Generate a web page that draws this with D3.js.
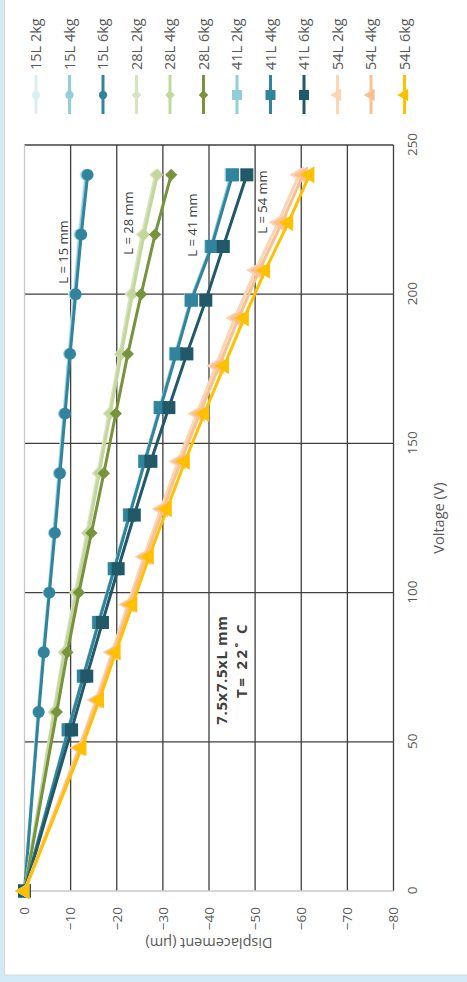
<!DOCTYPE html>
<html>
<head>
<meta charset="utf-8">
<script src="https://cdn.jsdelivr.net/npm/d3@7"></script>
<style>
  html, body { margin: 0; padding: 0; background: #d4eaf6; }
  svg { display: block; }
  text { font-family: "Open Sans", sans-serif; }
</style>
</head>
<body>
<script>
// series names, in drawing order
const seriesNames = [
  '15L 2kg', '15L 4kg', '15L 6kg',
  '28L 2kg', '28L 4kg', '28L 6kg',
  '41L 2kg', '41L 4kg', '41L 6kg',
  '54L 2kg', '54L 4kg', '54L 6kg'
];

// voltage steps per stack length (V)
const volt15 = [0, 60, 80, 100, 120, 140, 160, 180, 200, 220, 240];
const volt28 = [0, 60, 80, 100, 120, 140, 160, 180, 200, 220, 240];
const volt41 = [0, 54, 72, 90, 108, 126, 144, 162, 180, 198, 216, 240];
const volt54 = [0, 48, 64, 80, 96, 112, 128, 144, 160, 176, 192, 208, 224, 240];

// displacement (um)
const d15L2kg = [0, -2.9, -4.0, -5.2, -6.3, -7.4, -8.5, -9.6, -10.7, -11.8, -13.2];
const d15L4kg = [0, -3.0, -4.1, -5.3, -6.4, -7.5, -8.6, -9.7, -10.9, -12.0, -13.4];
const d15L6kg = [0, -3.1, -4.2, -5.4, -6.6, -7.7, -8.8, -9.9, -11.1, -12.3, -13.7];

const d28L2kg = [0, -6.3, -8.5, -11.0, -13.5, -15.9, -18.3, -20.7, -23.0, -25.5, -28.4];
const d28L4kg = [0, -6.5, -8.7, -11.3, -13.8, -16.2, -18.6, -21.0, -23.4, -25.9, -28.8];
const d28L6kg = [0, -7.0, -9.3, -11.8, -14.5, -17.2, -19.8, -22.4, -25.3, -28.3, -31.8];

const d41L2kg = [0, -9.4, -12.7, -16.0, -19.4, -22.7, -26.0, -29.3, -32.7, -36.0, -40.4, -44.8];
const d41L4kg = [0, -9.5, -12.8, -16.1, -19.5, -22.8, -26.1, -29.5, -32.9, -36.2, -40.6, -45.1];
const d41L6kg = [0, -10.2, -13.5, -16.9, -20.3, -23.8, -27.4, -31.3, -35.2, -39.3, -43.1, -48.2];

const d54L2kg = [0, -11.8, -15.5, -19.0, -22.4, -25.9, -29.6, -33.3, -37.4, -41.5, -45.6, -50.1, -55.0, -59.5];
const d54L4kg = [0, -12.0, -15.8, -19.3, -22.8, -26.3, -30.1, -33.9, -38.0, -42.2, -46.4, -50.9, -55.8, -60.4];
const d54L6kg = [0, -12.4, -16.2, -19.8, -23.4, -27.0, -30.9, -34.8, -39.0, -43.3, -47.6, -52.2, -57.2, -61.8];

// axis ticks
const voltTicks = [0, 50, 100, 150, 200, 250];
const dispTicks = [0, -10, -20, -30, -40, -50, -60, -70, -80];

// annotations
const lengthLabels = ['L = 15 mm', 'L = 28 mm', 'L = 41 mm', 'L = 54 mm'];
const noteLines = ['7.5x7.5xL mm', 'T= 22\u02DA C'];

// styles
const colors = [
  '#daeef3', '#92cddc', '#31849b',
  '#d7e4bd', '#c3d69b', '#77933c',
  '#92cddc', '#31849b', '#215968',
  '#fcd5b5', '#fac090', '#ffc000'
];

const volts  = [volt15, volt15, volt15, volt28, volt28, volt28, volt41, volt41, volt41, volt54, volt54, volt54];
const values = [d15L2kg, d15L4kg, d15L6kg, d28L2kg, d28L4kg, d28L6kg, d41L2kg, d41L4kg, d41L6kg, d54L2kg, d54L4kg, d54L6kg];

// marker shapes per group
const shapeOf = (i) => ['circle', 'diamond', 'square', 'triangle'][Math.floor(i / 3)];

const series = seriesNames.map((name, i) => ({
  name,
  color: colors[i],
  shape: shapeOf(i),
  points: volts[i].map((v, j) => ({ v, d: values[i][j] }))
}));

const width  = 467;
const height = 982;

const svg = d3.select('body')
  .append('svg')
    .attr('width', width)
    .attr('height', height);

// chart area
svg.append('rect')
  .attr('x', 4.5)
  .attr('y', -2)
  .attr('width', width)
  .attr('height', 977)
  .attr('fill', '#fff')
  .attr('stroke', '#d9d9d9');

// chart is laid out landscape, then turned a quarter to the left
const W = height;
const g = svg.append('g')
  .attr('transform', `translate(0,${W}) rotate(-90)`);

const x = d3.scaleLinear().domain([0, 250]).range([91, 837]);
const y = d3.scaleLinear().domain([0, -80]).range([24.5, 393.5]);

// gridlines
g.append('g')
  .selectAll('line')
  .data(voltTicks.filter((v) => v !== 0))
  .join('line')
    .attr('x1', (d) => x(d))
    .attr('x2', (d) => x(d))
    .attr('y1', y(0))
    .attr('y2', y(-80))
    .attr('stroke', '#3f3f3f')
    .attr('stroke-width', 1.3);

g.append('g')
  .selectAll('line')
  .data(dispTicks.filter((d) => d !== 0))
  .join('line')
    .attr('x1', x(0))
    .attr('x2', x(250))
    .attr('y1', (d) => y(d))
    .attr('y2', (d) => y(d))
    .attr('stroke', '#3f3f3f')
    .attr('stroke-width', 1.3);

// axis lines
g.append('line')
  .attr('x1', x(0)).attr('x2', x(250))
  .attr('y1', y(0)).attr('y2', y(0))
  .attr('stroke', '#c8c8c8').attr('stroke-width', 1.3);
g.append('line')
  .attr('x1', x(0)).attr('x2', x(0))
  .attr('y1', y(0)).attr('y2', y(-80))
  .attr('stroke', '#c8c8c8').attr('stroke-width', 1.3);

// axes labels
g.append('g')
  .attr('transform', `translate(0,${y(-80)})`)
  .call(d3.axisBottom(x).tickValues(voltTicks).tickSize(0).tickPadding(14))
  .call((a) => a.select('.domain').remove())
  .call((a) => a.selectAll('text')
    .attr('fill', '#595959')
    .style('font-size', '13.5px')
    .style('font-family', '"Open Sans", sans-serif'));

g.append('g')
  .attr('transform', `translate(${x(0)},0)`)
  .call(d3.axisLeft(y).tickValues(dispTicks).tickSize(0).tickPadding(16))
  .call((a) => a.select('.domain').remove())
  .call((a) => a.selectAll('text')
    .attr('fill', '#595959')
    .style('font-size', '13.5px')
    .style('font-family', '"Open Sans", sans-serif'));

// axis titles
g.append('text')
  .attr('x', (x(0) + x(250)) / 2)
  .attr('y', 439)
  .attr('dy', '0.35em')
  .attr('text-anchor', 'middle')
  .attr('fill', '#595959')
  .style('font-size', '14.5px')
  .text('Voltage (V)');

g.append('text')
  .attr('transform', `translate(39,${(y(0) + y(-80)) / 2}) rotate(-90)`)
  .attr('dy', '0.35em')
  .attr('text-anchor', 'middle')
  .attr('fill', '#595959')
  .style('font-size', '14.5px')
  .text('Displacement (\u00B5m)');

// marker path: plot size and legend size per shape
const markerSize = {
  circle:   [110, 55],
  diamond:  [75, 45],
  square:   [170, 100],
  triangle: [120, 70]
};
const markerPath = (shape, inLegend) => {
  const size = markerSize[shape][inLegend ? 1 : 0];
  const type = shape === 'circle' ? d3.symbolCircle
    : shape === 'triangle' ? d3.symbolTriangle
    : d3.symbolSquare;
  return d3.symbol(type, size)();
};
const markerRotate = (shape) => (shape === 'diamond' ? ' rotate(45)' : '');

const line = d3.line()
  .x((d) => x(d.v))
  .y((d) => y(d.d));

// series
const sg = g.append('g')
  .selectAll('g')
  .data(series)
  .join('g');

sg.append('path')
  .attr('d', (s) => line(s.points))
  .attr('fill', 'none')
  .attr('stroke', (s) => s.color)
  .attr('stroke-width', 3)
  .attr('stroke-linejoin', 'round');

sg.selectAll('path.mark')
  .data((s) => s.points.map((p) => ({ ...p, s })))
  .join('path')
    .attr('class', 'mark')
    .attr('d', (p) => markerPath(p.s.shape, false))
    .attr('transform', (p) => `translate(${x(p.v)},${y(p.d)})${markerRotate(p.s.shape)}`)
    .attr('fill', (p) => p.s.color);

// length labels
const lengthPos = [[730, 63], [759, 128], [757, 192], [780, 262]];
g.append('g')
  .selectAll('text')
  .data(lengthLabels)
  .join('text')
    .attr('x', (d, i) => lengthPos[i][0])
    .attr('y', (d, i) => lengthPos[i][1])
    .attr('dy', '0.35em')
    .attr('text-anchor', 'middle')
    .attr('fill', '#404040')
    .style('font-size', '13px')
    .text((d) => d);

// sample note
const notePos = [[312, 222], [322, 242]];
const noteSpacing = [0.6, 2.4];
g.append('g')
  .selectAll('text')
  .data(noteLines)
  .join('text')
    .attr('x', (d, i) => notePos[i][0])
    .attr('y', (d, i) => notePos[i][1])
    .attr('dy', '0.35em')
    .attr('text-anchor', 'middle')
    .attr('fill', '#404040')
    .style('font-size', '15px')
    .style('font-weight', 'bold')
    .style('letter-spacing', (d, i) => `${noteSpacing[i]}px`)
    .text((d) => d);

// legend
const legend = g.append('g')
  .selectAll('g')
  .data(series)
  .join('g')
    .attr('transform', (s, i) => `translate(0,${36 + i * 33.5})`);

legend.append('line')
  .attr('x1', 868)
  .attr('x2', 907)
  .attr('stroke', (s) => s.color)
  .attr('stroke-width', 3);

legend.append('path')
  .attr('d', (s) => markerPath(s.shape, true))
  .attr('transform', (s) => `translate(887,0)${markerRotate(s.shape)}`)
  .attr('fill', (s) => s.color);

legend.append('text')
  .attr('x', 912)
  .attr('dy', '0.35em')
  .attr('fill', '#595959')
  .style('font-size', '14.5px')
  .text((s) => s.name);
</script>
</body>
</html>
